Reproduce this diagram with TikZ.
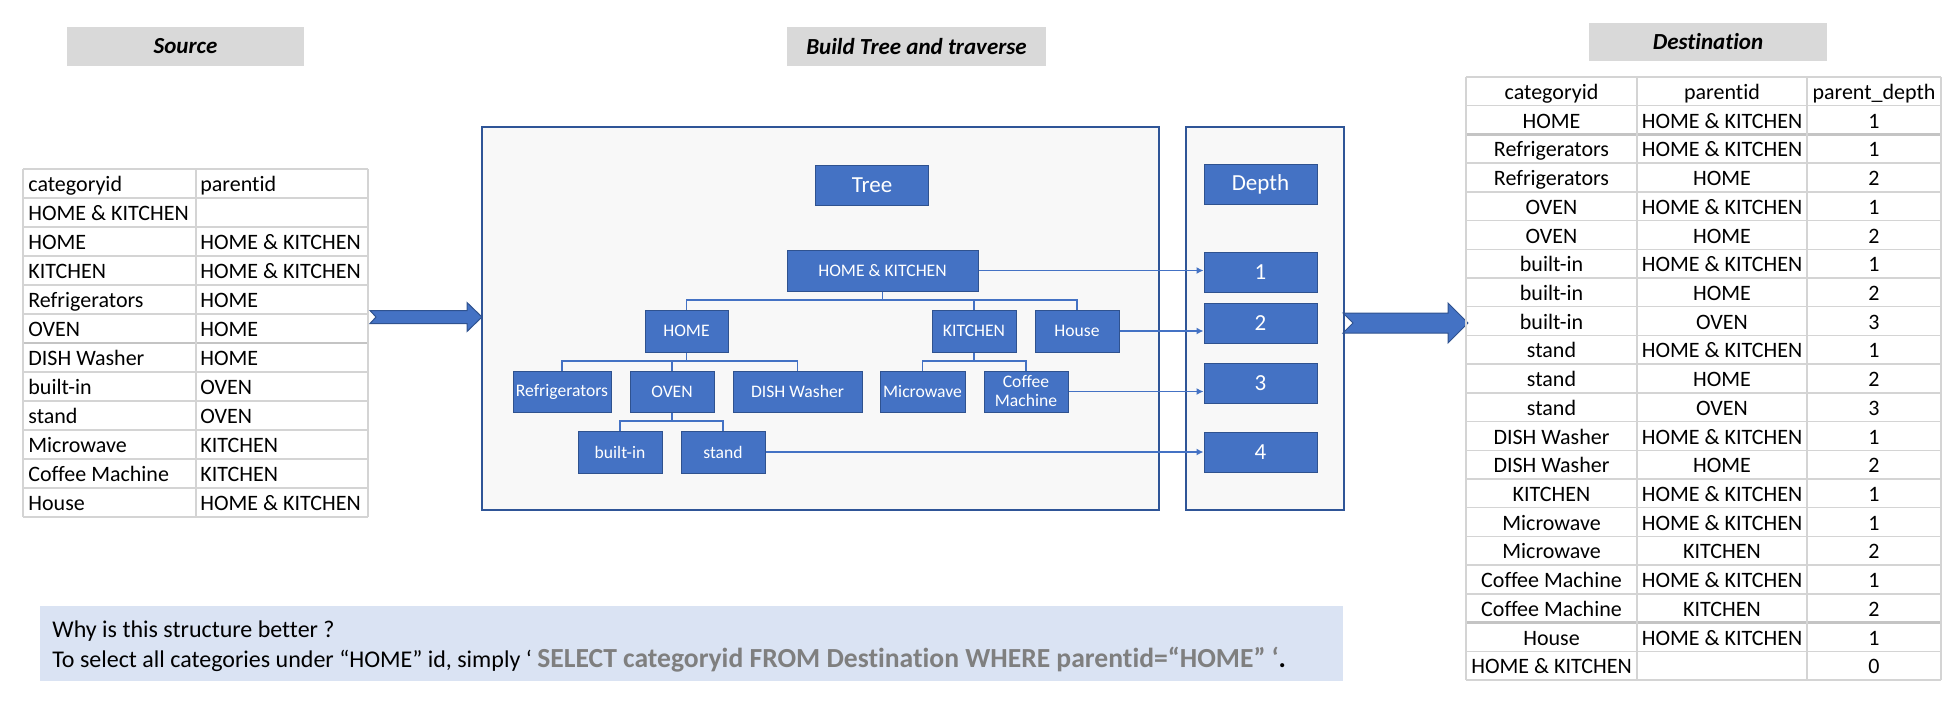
\documentclass[tikz,border=0pt]{standalone}
\usepackage{fontspec}
\setmainfont[Ligatures=NoCommon]{Carlito}
\usetikzlibrary{arrows.meta}
\definecolor{nodeblue}{HTML}{4472C4}
\definecolor{nodeedge}{HTML}{2F528F}
\definecolor{boxedge}{HTML}{2F5597}
\definecolor{panelfill}{HTML}{F8F8F8}
\definecolor{hdrgray}{HTML}{D9D9D9}
\definecolor{gridgray}{HTML}{D4D4D4}
\definecolor{gridthick}{HTML}{C4C4C4}
\definecolor{notebg}{HTML}{DAE3F3}
\definecolor{sqlgray}{HTML}{7F7F7F}
\begin{document}
\begin{tikzpicture}[x=0.5pt,y=-0.5pt,
  hdr/.style={fill=hdrgray, inner sep=0, minimum height=19.5pt, font=\fontsize{11.5}{14}\selectfont\bfseries\itshape},
  panel/.style={fill=panelfill, draw=boxedge, line width=0.7pt, inner sep=0},
  tn/.style={fill=nodeblue, draw=nodeedge, line width=0.5pt, text=white, inner sep=0, minimum height=20.5pt, font=\fontsize{8.8}{9.5}\selectfont, align=center},
  bign/.style={tn, minimum width=56.5pt, minimum height=20pt, font=\fontsize{11.5}{13}\selectfont},
  link/.style={draw=nodeblue, line width=0.65pt},
  tolevel/.style={link, -{Latex[length=3.5pt,width=3.5pt]}},
  grid/.style={draw=gridgray, line width=0.7pt},
  gridbold/.style={draw=gridthick, line width=1.3pt},
  cell/.style={inner sep=0, font=\fontsize{11}{13}\selectfont},
  blockarrow/.style={fill=nodeblue, draw=nodeedge, line width=0.5pt}
]
\useasboundingbox (0,0) rectangle (1952,720);

% headers
\node[hdr, minimum width=118.5pt] (hsrc) at (185.5,46.5) {Source};
\node[hdr, minimum width=129.5pt] (hbuild) at (916.5,46.5) {Build Tree and traverse};
\node[hdr, minimum width=119pt, minimum height=19pt] (hdst) at (1708,42) {Destination};

% source table
\foreach \i in {0,...,12} \draw[grid] (23,169+29*\i) -- (368,169+29*\i);
\draw[gridbold] (23,343) -- (368,343);
\foreach \x in {23,196,368} \draw[grid] (\x,169) -- (\x,517);
\foreach \a/\b [count=\i from 0] in {categoryid/parentid,
  {HOME \& KITCHEN}/{},
  HOME/{HOME \& KITCHEN},
  KITCHEN/{HOME \& KITCHEN},
  Refrigerators/HOME,
  OVEN/HOME,
  {DISH Washer}/HOME,
  built-in/OVEN,
  stand/OVEN,
  Microwave/KITCHEN,
  {Coffee Machine}/KITCHEN,
  House/{HOME \& KITCHEN}}{
  \node[cell, anchor=base west] (s\i a) at (28,191+29*\i) {\a};
  \node[cell, anchor=base west] (s\i b) at (200,191+29*\i) {\b};
}

% panels
\node[panel, minimum width=338.5pt, minimum height=191.5pt] (treepanel) at (820.5,318.5) {};
\node[panel, minimum width=79pt, minimum height=191.5pt] (depthpanel) at (1265,318.5) {};

% big arrows
\draw[blockarrow] (370,310.5) -- (467,310.5) -- (467,302.5) -- (482,317) -- (467,331.5) -- (467,323.5) -- (370,323.5) -- (376,317) -- cycle;
\draw[blockarrow] (1343,313) -- (1448,313) -- (1448,303) -- (1468,323) -- (1448,343) -- (1448,333) -- (1343,333) -- (1353,323) -- cycle;

% tree nodes
\node[bign] (treelbl) at (872,185.5) {Tree};
\node[tn, minimum width=95.5pt] (hk) at (882.5,270.5) {HOME \& KITCHEN};
\node[tn, minimum width=41.5pt, minimum height=21pt] (home) at (686.5,331) {HOME};
\node[tn, minimum width=42pt, minimum height=21pt] (kitchen) at (974,331) {KITCHEN};
\node[tn, minimum width=42pt, minimum height=21pt] (house) at (1077,331) {House};
\node[tn, minimum width=49pt] (refr) at (562,391.5) {Refrigerators};
\node[tn, minimum width=42pt] (oven) at (672,391.5) {OVEN};
\node[tn, minimum width=64.5pt] (dish) at (797.5,391.5) {DISH Washer};
\node[tn, minimum width=42.5pt] (micro) at (922.5,391.5) {Microwave};
\node[tn, minimum width=42pt] (coffee) at (1026,391.5) {Coffee\\Machine};
\node[tn, minimum width=42pt, minimum height=21pt] (builtin) at (620,452) {built-in};
\node[tn, minimum width=42pt, minimum height=21pt] (stand) at (723,452) {stand};

% tree connectors
\coordinate (b1) at (882.5,300);
\coordinate (b2) at (686.5,361);
\coordinate (b3) at (974,361);
\coordinate (b4) at (672,421);
\draw[link] (hk.south) -- (b1);
\draw[link] (b1) -| (home.north);
\draw[link] (b1) -| (house.north);
\draw[link] (kitchen.north) -- (kitchen.north |- b1);
\draw[link] (home.south) -- (b2);
\draw[link] (b2) -| (refr.north);
\draw[link] (b2) -| (dish.north);
\draw[link] (oven.north) -- (oven.north |- b2);
\draw[link] (kitchen.south) -- (b3);
\draw[link] (b3) -| (micro.north);
\draw[link] (b3) -| (coffee.north);
\draw[link] (oven.south) -- (b4);
\draw[link] (b4) -| (builtin.north);
\draw[link] (b4) -| (stand.north);

% depth nodes
\node[bign] (depthlbl) at (1260.5,184) {Depth};
\node[bign] (d1) at (1260.5,272) {1};
\node[bign] (d2) at (1260.5,323) {2};
\node[bign] (d3) at (1260.5,383) {3};
\node[bign] (d4) at (1260.5,452) {4};

\draw[tolevel] (hk.east) -- (hk.east -| d1.west);
\draw[tolevel] (house.east) -- (house.east -| d2.west);
\draw[tolevel] (coffee.east) -- (coffee.east -| d3.west);
\draw[tolevel] (stand.east) -- (stand.east -| d4.west);

% destination table
\foreach \i in {0,...,21} \draw[grid] (1466,77+28.714*\i) -- (1941,77+28.714*\i);
\draw[gridbold] (1466,134.4) -- (1941,134.4);
\draw[gridbold] (1466,622.6) -- (1941,622.6);
\foreach \x in {1466,1637,1807,1941} \draw[grid] (\x,77) -- (\x,680);
\foreach \a/\b/\c [count=\i from 0] in {categoryid/parentid/parent\_depth,
  HOME/{HOME \& KITCHEN}/1,
  Refrigerators/{HOME \& KITCHEN}/1,
  Refrigerators/HOME/2,
  OVEN/{HOME \& KITCHEN}/1,
  OVEN/HOME/2,
  built-in/{HOME \& KITCHEN}/1,
  built-in/HOME/2,
  built-in/OVEN/3,
  stand/{HOME \& KITCHEN}/1,
  stand/HOME/2,
  stand/OVEN/3,
  {DISH Washer}/{HOME \& KITCHEN}/1,
  {DISH Washer}/HOME/2,
  KITCHEN/{HOME \& KITCHEN}/1,
  Microwave/{HOME \& KITCHEN}/1,
  Microwave/KITCHEN/2,
  {Coffee Machine}/{HOME \& KITCHEN}/1,
  {Coffee Machine}/KITCHEN/2,
  House/{HOME \& KITCHEN}/1,
  {HOME \& KITCHEN}/{}/0}{
  \node[cell, anchor=base] (t\i a) at (1551.5,99.5+28.714*\i) {\a};
  \node[cell, anchor=base] (t\i b) at (1722,99.5+28.714*\i) {\b};
  \node[cell, anchor=base] (t\i c) at (1874,99.5+28.714*\i) {\c};
}

% note box
\node[fill=notebg, inner sep=0, minimum width=651.5pt, minimum height=37.5pt] (note) at (691.5,643.5) {};
\node[anchor=base west, inner sep=0, font=\fontsize{12}{14}\selectfont] (why) at (52,637) {Why is this structure better ?};
\node[anchor=base west, inner sep=0, font=\fontsize{12}{14}\selectfont] (sel) at (52,667) {To select all categories under “HOME” id, simply ‘ {\fontsize{13.8}{15}\selectfont\textcolor{sqlgray}{\bfseries SELECT categoryid FROM Destination WHERE parentid=“HOME” ‘}\textbf{.}}};
\end{tikzpicture}
\end{document}
